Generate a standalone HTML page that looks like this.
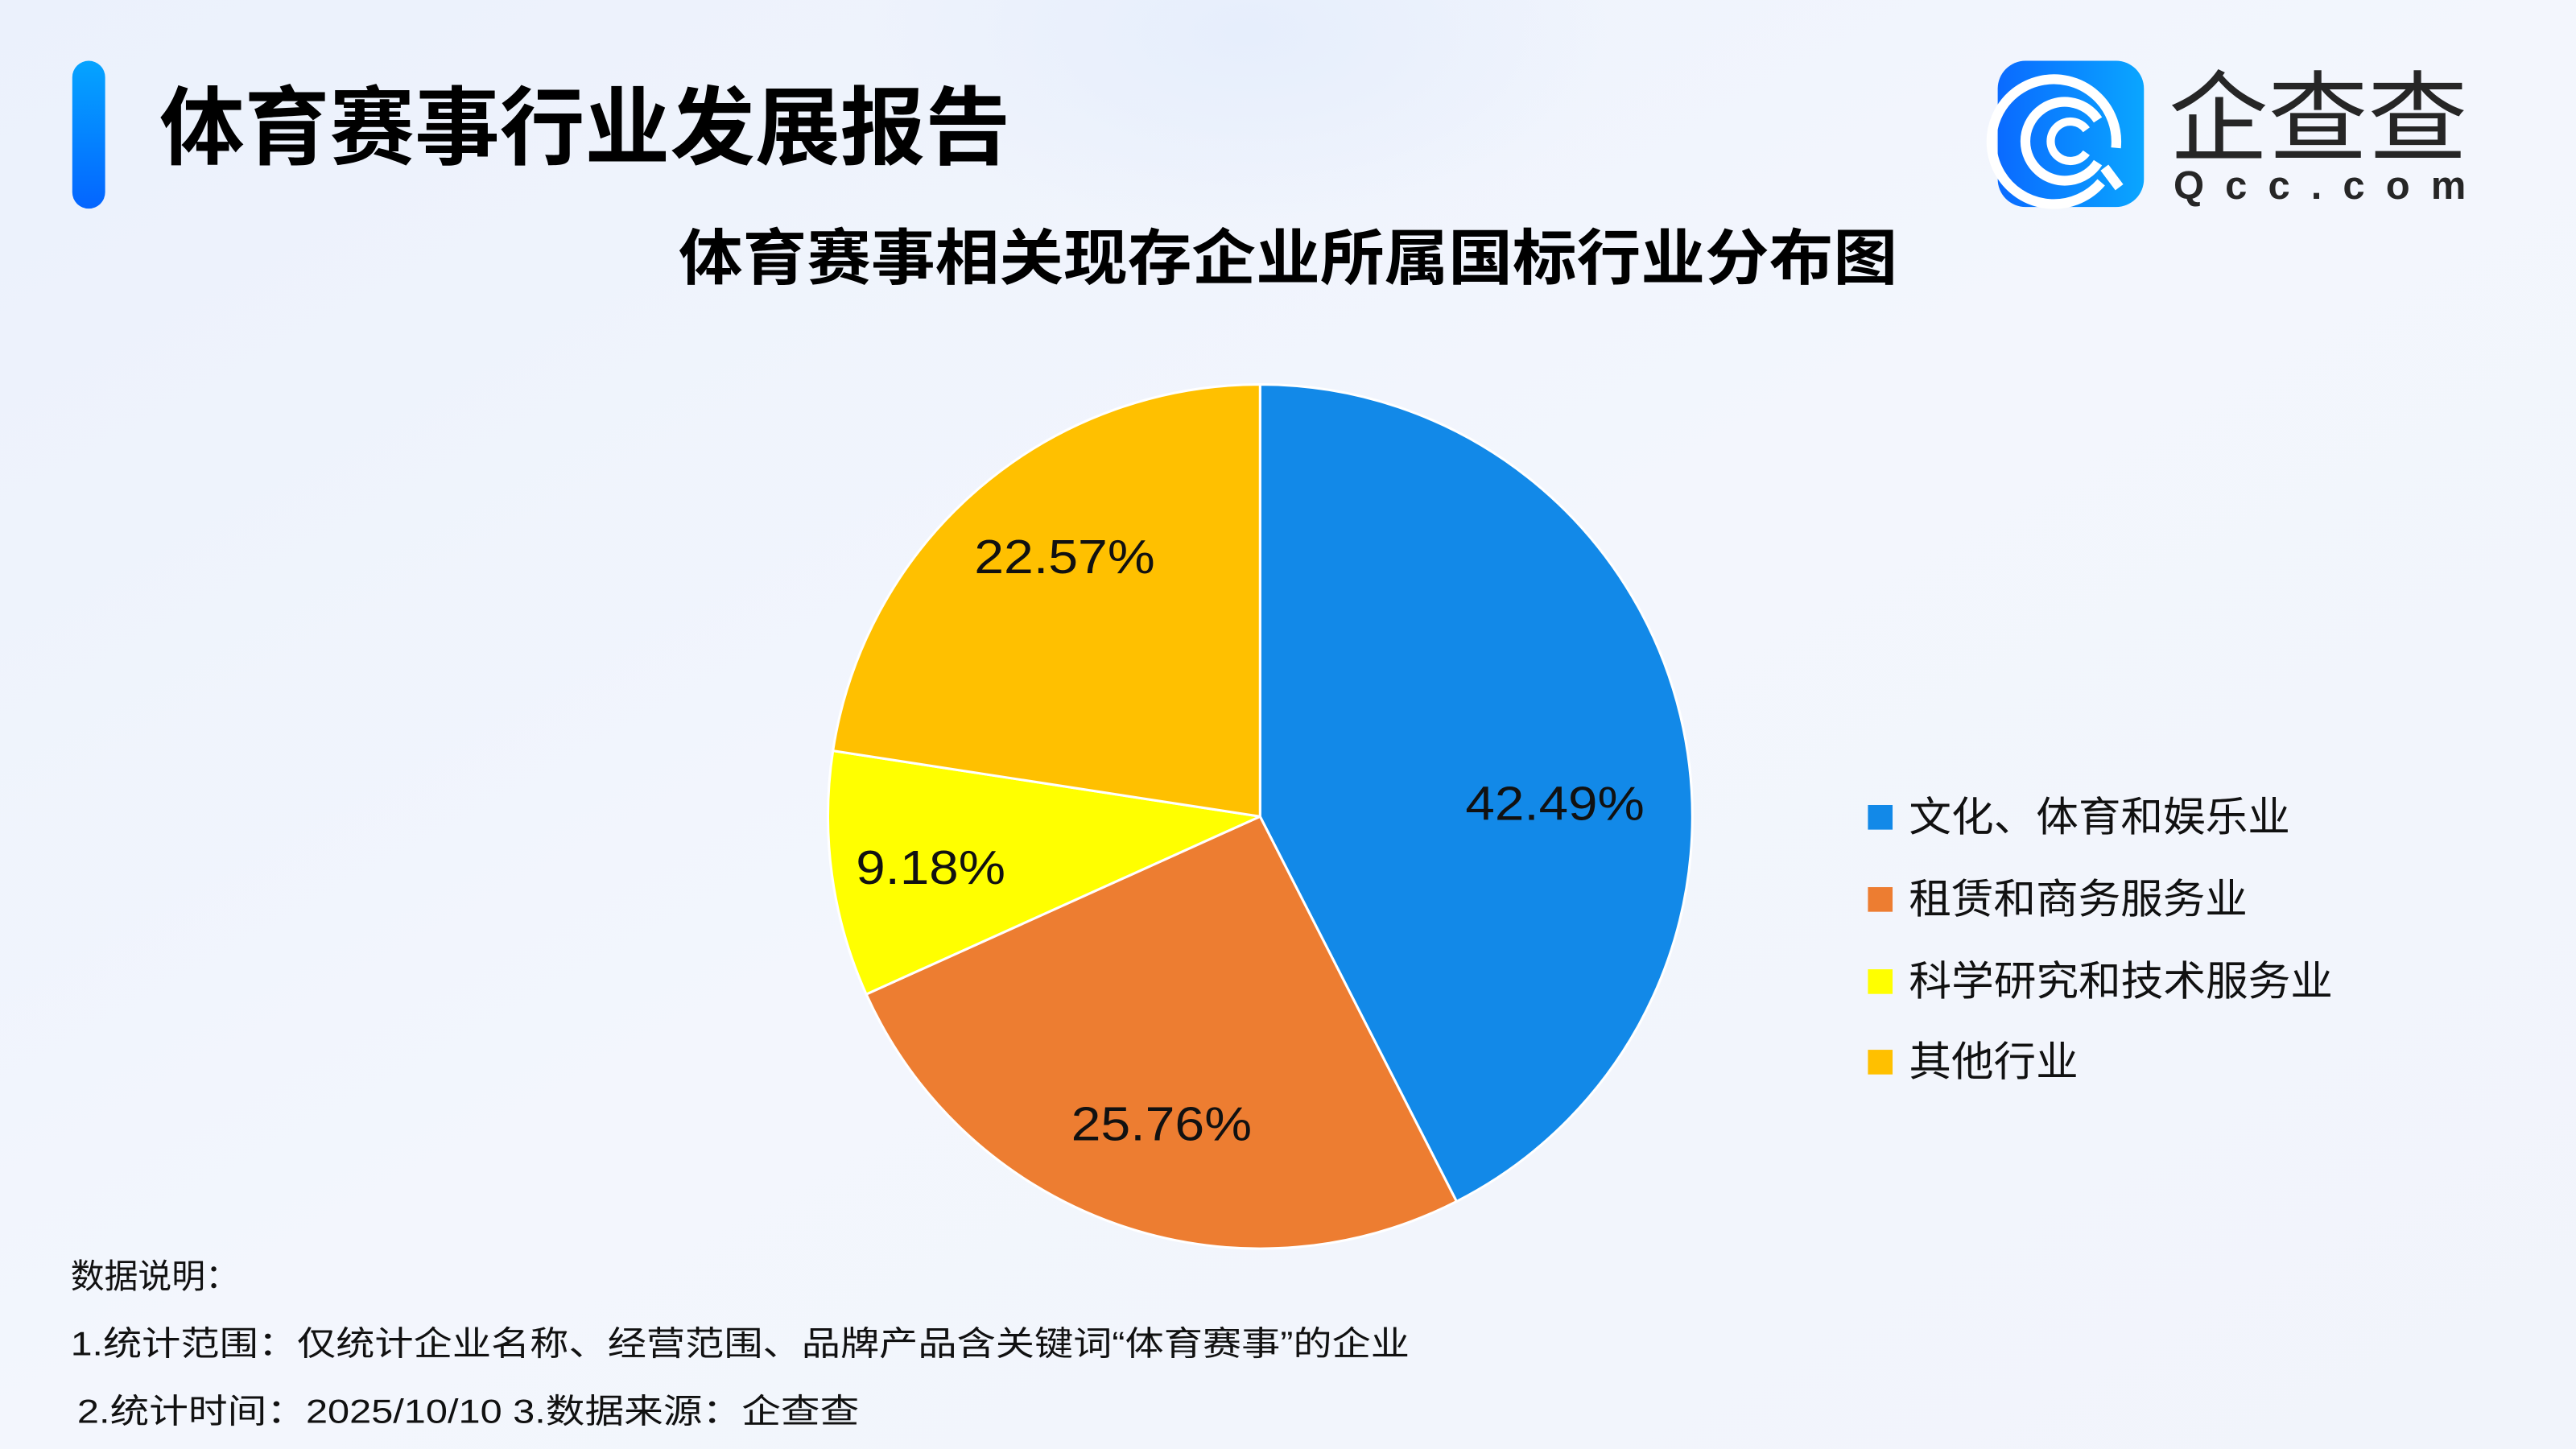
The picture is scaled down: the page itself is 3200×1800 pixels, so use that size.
<!DOCTYPE html>
<html><head><meta charset="utf-8"><style>
html,body{margin:0;padding:0;width:3200px;height:1800px;overflow:hidden;}
svg{display:block;}
text{font-family:"Liberation Sans","Noto Sans CJK SC",sans-serif;}
</style></head><body>
<svg width="3200" height="1800" viewBox="0 0 1568 882" xmlns="http://www.w3.org/2000/svg">
<defs>
<linearGradient id="bg" x1="0" y1="0" x2="1" y2="1">
<stop offset="0" stop-color="#ebf1fc"/><stop offset="0.5" stop-color="#f3f6fd"/><stop offset="1" stop-color="#f1f4fb"/>
</linearGradient>
<radialGradient id="glow" cx="0.5" cy="0.5" r="0.5">
<stop offset="0" stop-color="#e6eefc"/><stop offset="1" stop-color="#e6eefc" stop-opacity="0"/>
</radialGradient>
<linearGradient id="bar" x1="0" y1="0" x2="0" y2="1">
<stop offset="0" stop-color="#05a4ff"/><stop offset="1" stop-color="#0465ff"/>
</linearGradient>
<linearGradient id="logo" x1="0" y1="0" x2="1" y2="0">
<stop offset="0" stop-color="#0a6aff"/><stop offset="1" stop-color="#0aa6ff"/>
</linearGradient>
</defs>
<rect width="1568" height="882" fill="url(#bg)"/>
<ellipse cx="760" cy="20" rx="230" ry="120" fill="url(#glow)"/>
<rect x="44" y="37" width="20" height="90" rx="10" fill="url(#bar)"/>
<text x="97" y="96" font-size="52" font-weight="bold" fill="#000" textLength="518" lengthAdjust="spacingAndGlyphs">体育赛事行业发展报告</text>
<rect x="1216" y="37" width="89" height="89" rx="17" fill="url(#logo)"/>
<g fill="none" stroke="#fff" stroke-linecap="butt">
<path d="M1279 111 A38 38 0 1 1 1288 90" stroke-width="6"/>
<path d="M1277 73 A24 24 0 1 0 1277 99" stroke-width="6"/>
<path d="M1270 79 A12 12 0 1 0 1270 93" stroke-width="5"/>
<path d="M1281 102 L1290 114" stroke-width="6"/>
</g>
<text x="1320" y="93" font-size="60" fill="#262626" textLength="182" lengthAdjust="spacingAndGlyphs">企查查</text>
<text x="1323" y="121" font-size="24" font-weight="bold" fill="#262626" textLength="178" lengthAdjust="spacing">Qcc.com</text>
<text x="784" y="170" font-size="37" font-weight="bold" fill="#000" text-anchor="middle" textLength="742" lengthAdjust="spacingAndGlyphs">体育赛事相关现存企业所属国标行业分布图</text>
<g stroke="#fff" stroke-width="1.5" stroke-linejoin="round">
<path d="M767 497 L767 234 A263 263 0 0 1 886.6 731.3 Z" fill="#1289e8"/>
<path d="M767 497 L886.6 731.3 A263 263 0 0 1 527.3 605.2 Z" fill="#ed7d31"/>
<path d="M767 497 L527.3 605.2 A263 263 0 0 1 507.0 457.0 Z" fill="#ffff00"/>
<path d="M767 497 L507.0 457.0 A263 263 0 0 1 767 234 Z" fill="#ffc000"/>
</g>
<g font-size="29" fill="#111">
<text x="892" y="499" textLength="109" lengthAdjust="spacingAndGlyphs">42.49%</text>
<text x="652" y="694" textLength="110" lengthAdjust="spacingAndGlyphs">25.76%</text>
<text x="521" y="538" textLength="91" lengthAdjust="spacingAndGlyphs">9.18%</text>
<text x="593" y="349" textLength="110" lengthAdjust="spacingAndGlyphs">22.57%</text>
</g>
<rect x="1137" y="490" width="15" height="15" fill="#1289e8"/>
<rect x="1137" y="540" width="15" height="15" fill="#ed7d31"/>
<rect x="1137" y="590" width="15" height="15" fill="#ffff00"/>
<rect x="1137" y="639" width="15" height="15" fill="#ffc000"/>
<g font-size="25" fill="#111">
<text x="1162" y="506" textLength="232" lengthAdjust="spacingAndGlyphs">文化、体育和娱乐业</text>
<text x="1162" y="556" textLength="206" lengthAdjust="spacingAndGlyphs">租赁和商务服务业</text>
<text x="1162" y="606" textLength="258" lengthAdjust="spacingAndGlyphs">科学研究和技术服务业</text>
<text x="1162" y="655" textLength="103" lengthAdjust="spacingAndGlyphs">其他行业</text>
</g>
<g font-size="20.5" fill="#111">
<text x="43" y="784">数据说明：</text>
<text x="43" y="825" textLength="815" lengthAdjust="spacingAndGlyphs">1.统计范围：仅统计企业名称、经营范围、品牌产品含关键词“体育赛事”的企业</text>
<text x="47" y="866" textLength="476" lengthAdjust="spacingAndGlyphs">2.统计时间：2025/10/10  3.数据来源：企查查</text>
</g>
</svg>
</body></html>
